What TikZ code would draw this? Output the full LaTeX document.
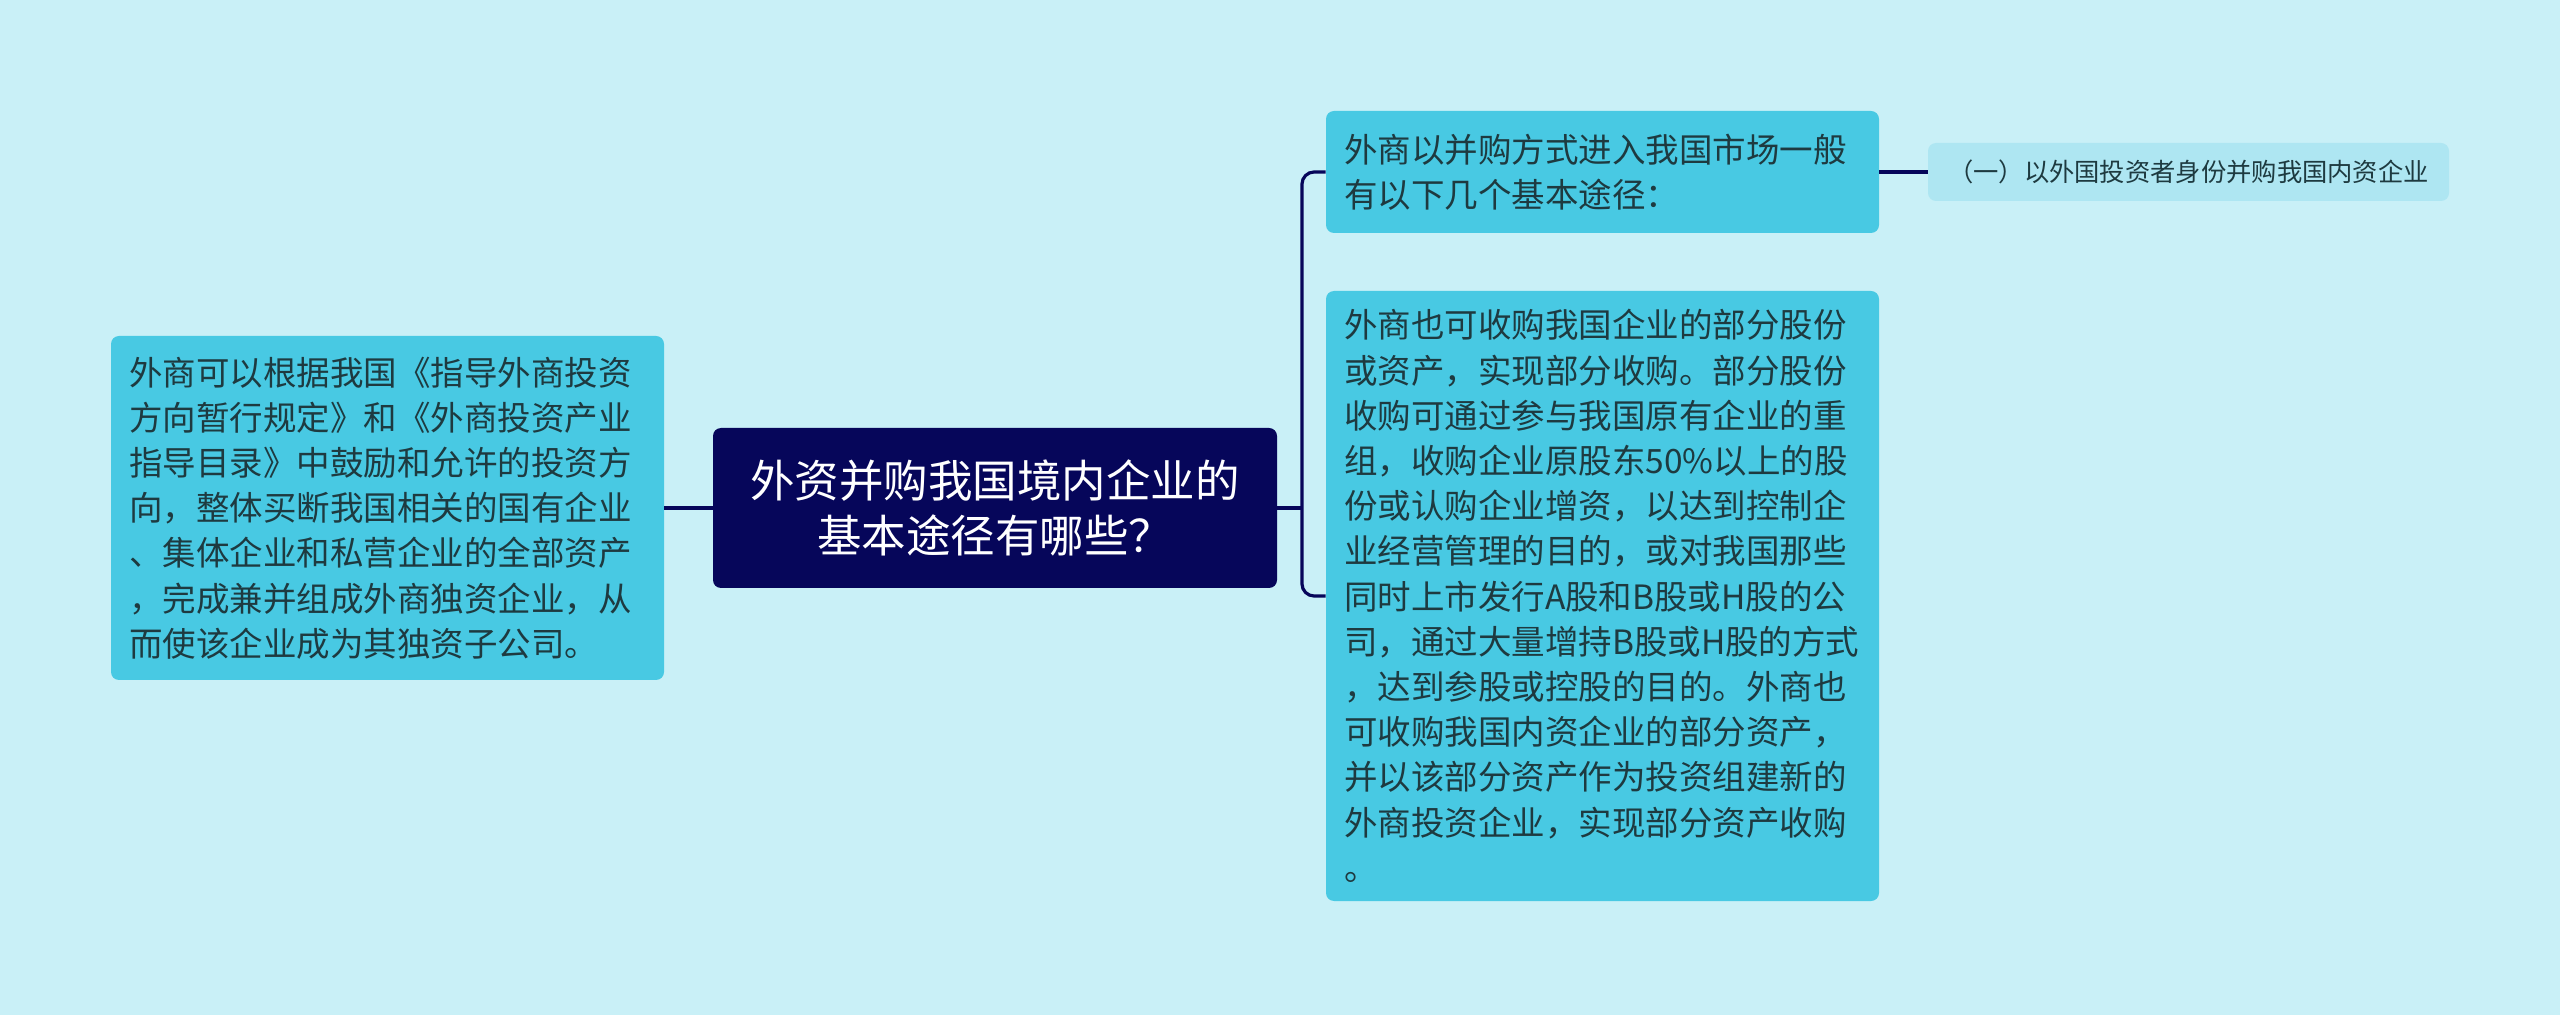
\documentclass[tikz,border=0pt]{standalone}
\usepackage{fontspec}
\setmainfont{Noto Sans CJK SC}
\definecolor{bgc}{HTML}{C9F0F7}
\definecolor{boxc}{HTML}{48C9E3}
\definecolor{lightc}{HTML}{AEE6F2}
\definecolor{navy}{HTML}{06065A}
\definecolor{txt}{HTML}{1E3A40}
\begin{document}
\begin{tikzpicture}[x=0.5pt,y=-0.5pt,
  conn/.style={draw=navy,line width=1.6pt},
  cbox/.style={fill=boxc,rounded corners=4pt,inner sep=0pt,text=txt,align=left,text width=258.5pt,
    font=\fontsize{16.75pt}{22.6pt}\selectfont},
  rootbox/.style={fill=navy,rounded corners=4pt,inner sep=0pt,text=white,align=center,
    font=\fontsize{22.25pt}{27.8pt}\selectfont},
  leafbox/.style={fill=lightc,rounded corners=4pt,inner sep=0pt,text=txt,align=center,
    font=\fontsize{12.65pt}{15pt}\selectfont}]
\fill[bgc] (0,0) rectangle (2560,1015);
\useasboundingbox (0,0) rectangle (2560,1015);

\node[rootbox,minimum width=282pt,minimum height=80pt] (root) at (995,508)
  {外资并购我国境内企业的\\基本途径有哪些？};

\node[cbox,minimum width=276.5pt,minimum height=172pt] (left) at (387.5,508)
  {外商可以根据我国《指导外商投资\\方向暂行规定》和《外商投资产业\\指导目录》中鼓励和允许的投资方\\向，整体买断我国相关的国有企业\\、集体企业和私营企业的全部资产\\，完成兼并组成外商独资企业，从\\而使该企业成为其独资子公司。};

\node[cbox,minimum width=276.5pt,minimum height=61pt] (rt) at (1602.5,172)
  {外商以并购方式进入我国市场一般\\有以下几个基本途径：};

\node[cbox,minimum width=276.5pt,minimum height=305pt] (rb) at (1602.5,596)
  {外商也可收购我国企业的部分股份\\或资产，实现部分收购。部分股份\\收购可通过参与我国原有企业的重\\组，收购企业原股东50\%以上的股\\份或认购企业增资，以达到控制企\\业经营管理的目的，或对我国那些\\同时上市发行A股和B股或H股的公\\司，通过大量增持B股或H股的方式\\，达到参股或控股的目的。外商也\\可收购我国内资企业的部分资产，\\并以该部分资产作为投资组建新的\\外商投资企业，实现部分资产收购\\。};

\node[leafbox,minimum width=260.5pt,minimum height=29pt] (fr) at (2188.5,172)
  {（一）以外国投资者身份并购我国内资企业};

\coordinate (bus) at (1302,508);
\draw[conn] (left.east) -- (root.west);
\draw[conn] (root.east) -- (bus);
\draw[conn,rounded corners=6pt] (rt.west) -| (bus) |- (rb.west);
\draw[conn] (rt.east) -- (fr.west);
\end{tikzpicture}
\end{document}
